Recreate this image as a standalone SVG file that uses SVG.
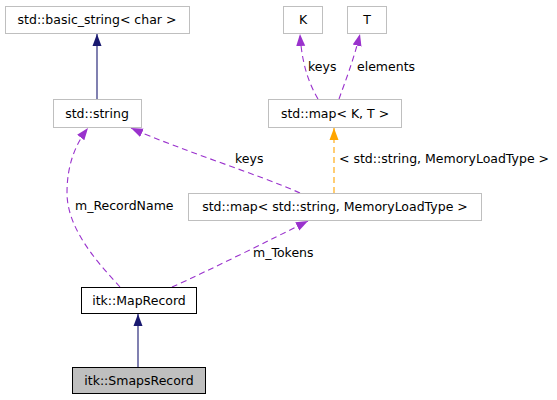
<svg xmlns="http://www.w3.org/2000/svg" width="557" height="400" viewBox="0 0 557 400">
<defs>
<style>
text{font-family:"DejaVu Sans",sans-serif;font-size:12.5px;fill:#000}
.n{fill:#fff;stroke:#bfbfbf;stroke-width:1}
.nb{fill:#fff;stroke:#000;stroke-width:1}
.ns{fill:#bfbfbf;stroke:#000;stroke-width:1}
.c{text-anchor:middle}
.inh{fill:none;stroke:#191970;stroke-width:1.1}
.use{fill:none;stroke:#9a32cd;stroke-width:1.1;stroke-dasharray:6,4}
.tpl{fill:none;stroke:#ffa500;stroke-width:1.1;stroke-dasharray:6,4}
</style>
<marker id="aN" markerUnits="userSpaceOnUse" markerWidth="12" markerHeight="10" viewBox="0 0 12 10" refX="12" refY="5" orient="auto"><path d="M0,0.5 L12,5 L0,9.5 Z" fill="#191970"/></marker>
<marker id="aP" markerUnits="userSpaceOnUse" markerWidth="12" markerHeight="10" viewBox="0 0 12 10" refX="12" refY="5" orient="auto"><path d="M0,0.5 L12,5 L0,9.5 Z" fill="#9a32cd"/></marker>
<marker id="aO" markerUnits="userSpaceOnUse" markerWidth="12" markerHeight="10" viewBox="0 0 12 10" refX="12" refY="5" orient="auto"><path d="M0,0.5 L12,5 L0,9.5 Z" fill="#ffa500"/></marker>
</defs>
<rect width="557" height="400" fill="#fff"/>
<g id="edges">
<path class="inh" d="M97,99 L97,34" marker-end="url(#aN)"/>
<path class="use" d="M318,99 C311,87 302,68 300,34" marker-end="url(#aP)"/>
<text x="308" y="71">keys</text>
<path class="use" d="M339,99 C345,82 353,62 360,34" marker-end="url(#aP)"/>
<text x="357" y="71">elements</text>
<path class="tpl" d="M334,193 L334,128" marker-end="url(#aO)"/>
<text x="339" y="163">&lt; std::string, MemoryLoadType &gt;</text>
<path class="use" d="M300,193 C260,175 180,150 131,128" marker-end="url(#aP)"/>
<text x="235" y="163">keys</text>
<path class="use" d="M120,287 C100,265 67,230 67,193 C67,165 75,145 88,128" marker-end="url(#aP)"/>
<text x="75" y="210">m_RecordName</text>
<path class="use" d="M172,287 C210,270 270,240 308,221" marker-end="url(#aP)"/>
<text x="253" y="257">m_Tokens</text>
<path class="inh" d="M138,367 L138,314" marker-end="url(#aN)"/>
</g>
<g id="node-basic_string"><rect class="n" x="5.5" y="6.5" width="184" height="27"/><text class="c" x="97" y="24">std::basic_string&lt; char &gt;</text></g>
<g id="node-K"><rect class="n" x="283.5" y="6.5" width="39" height="27"/><text class="c" x="303" y="24">K</text></g>
<g id="node-T"><rect class="n" x="347.5" y="6.5" width="39" height="27"/><text class="c" x="367" y="24">T</text></g>
<g id="node-string"><rect class="n" x="53.5" y="99.5" width="88" height="28"/><text class="c" x="97" y="118">std::string</text></g>
<g id="node-mapKT"><rect class="n" x="268.5" y="99.5" width="133" height="28"/><text class="c" x="335" y="118">std::map&lt; K, T &gt;</text></g>
<g id="node-mapStr"><rect class="n" x="188.5" y="193.5" width="293" height="27"/><text class="c" x="335" y="211">std::map&lt; std::string, MemoryLoadType &gt;</text></g>
<g id="node-MapRecord"><rect class="nb" x="81.5" y="287.5" width="115" height="26"/><text class="c" x="139" y="305">itk::MapRecord</text></g>
<g id="node-SmapsRecord"><rect class="ns" x="72.5" y="367.5" width="133" height="26"/><text class="c" x="139" y="385">itk::SmapsRecord</text></g>
</svg>
